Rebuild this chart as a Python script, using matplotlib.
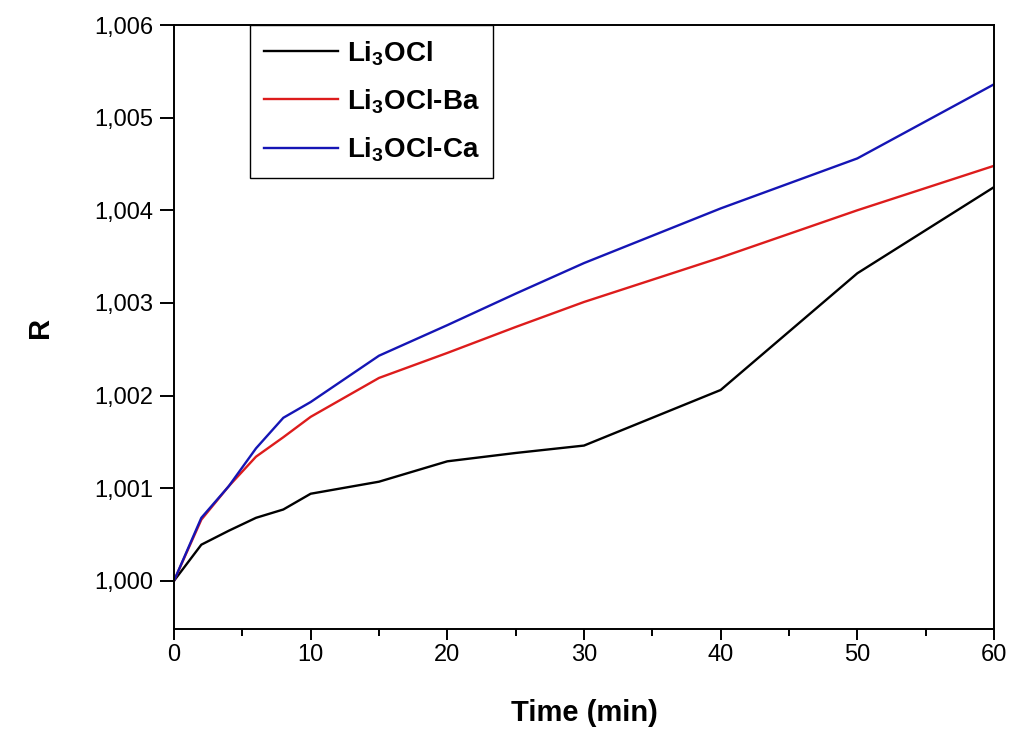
import matplotlib
matplotlib.use("Agg")
import matplotlib.pyplot as plt
from matplotlib.ticker import FuncFormatter, MultipleLocator

plt.rcParams['font.family'] = ['Liberation Sans', 'DejaVu Sans']
plt.rcParams['mathtext.fontset'] = 'custom'
plt.rcParams['mathtext.rm'] = 'Liberation Sans'
plt.rcParams['mathtext.bf'] = 'Liberation Sans:bold'

# Data
time = [0, 2, 4, 6, 8, 10, 15, 20, 25, 30, 40, 50, 60]
r_li3ocl = [1.0, 1.00039, 1.00054, 1.00068, 1.00077, 1.00094, 1.00107,
            1.00129, 1.00138, 1.00146, 1.00206, 1.00332, 1.00425]
r_ba = [1.0, 1.00066, 1.00102, 1.00134, 1.00155, 1.00177, 1.00219,
        1.00246, 1.00274, 1.00301, 1.00349, 1.00400, 1.00448]
r_ca = [1.0, 1.00068, 1.00102, 1.00143, 1.00176, 1.00193, 1.00243,
        1.00276, 1.00310, 1.00343, 1.00402, 1.00456, 1.00536]
labels = [r'Li$_\mathbf{3}$OCl', r'Li$_\mathbf{3}$OCl-Ba', r'Li$_\mathbf{3}$OCl-Ca']
colors = ['black', '#dd1c1c', '#1515b5']

fig = plt.figure(figsize=(10.11, 7.29), dpi=100)
ax = fig.add_axes([0.1721, 0.1372, 0.8111, 0.8285])

for y, lab, c in zip([r_li3ocl, r_ba, r_ca], labels, colors):
    ax.plot(time, y, color=c, lw=1.7, label=lab)

ax.set_xlim(0, 60)
ax.set_ylim(0.99948, 1.006)
ax.xaxis.set_major_locator(MultipleLocator(10))
ax.xaxis.set_minor_locator(MultipleLocator(5))
ax.yaxis.set_major_locator(MultipleLocator(0.001))
ax.yaxis.set_major_formatter(FuncFormatter(lambda v, p: f"{v:.3f}".replace('.', ',')))

for s in ax.spines.values():
    s.set_linewidth(1.4)
ax.tick_params(axis='x', which='major', direction='out', length=8, width=1.4,
               labelsize=17, pad=3)
ax.tick_params(axis='x', which='minor', direction='out', length=5, width=1.4)
ax.tick_params(axis='y', which='major', direction='out', length=10, width=1.4,
               labelsize=17, pad=5)
ax.tick_params(top=False, right=False)

ax.set_xlabel('Time (min)', fontsize=21, fontweight='bold', va='center')
ax.set_ylabel('R', fontsize=21, fontweight='bold', va='center')
ax.xaxis.set_label_coords(0.501, -0.139)
ax.yaxis.set_label_coords(-0.163, 0.5)

leg = ax.legend(loc='upper left', bbox_to_anchor=(0.0927, 1.0), borderaxespad=0,
                fancybox=False, edgecolor='black', framealpha=1,
                prop={'size': 20, 'weight': 'bold'}, handlelength=2.66,
                handletextpad=0.32, labelspacing=0.7, borderpad=0.5)
leg.get_frame().set_linewidth(1.0)

plt.savefig("out.png", dpi=100)
